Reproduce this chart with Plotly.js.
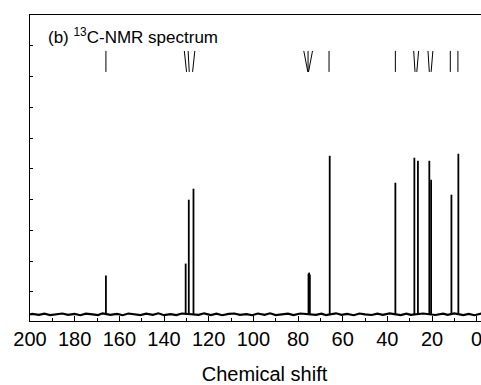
<!DOCTYPE html>
<html>
<head>
<meta charset="utf-8">
<script src="https://cdn.plot.ly/plotly-3.0.1.min.js"></script>
<style>
html,body{margin:0;padding:0;overflow:hidden;background:#fff;width:481px;height:385px;}
#chart{width:510px;height:385px;}
</style>
</head>
<body>
<div id="chart"></div>
<script>
// Peak positions (ppm) and heights (arbitrary intensity)
const peakShift  = [166.0, 130.3, 128.9, 126.8, 75.3, 75.0, 74.7, 65.8, 36.4, 27.9, 26.3, 21.2, 20.4, 11.3, 8.2];
const peakHeight = [39, 51, 115, 126, 41, 42, 40, 159, 132, 157, 154, 154, 135, 120, 161];

// Baseline noise (ppm, intensity)
const noiseShift = [200, 199, 196, 193.5, 191, 188, 185.5, 183, 180, 177.5, 175, 172, 169.5, 167.5, 164, 161, 158.5, 156, 153, 150.5, 148, 145, 142.5, 140, 137, 134.5, 132, 124.5, 122, 119, 116.5, 114, 111, 108.5, 106, 103, 100.5, 98, 95, 92.5, 90, 87, 84.5, 82, 79, 72, 69.5, 67.5, 63, 60.5, 58, 55, 52.5, 50, 47, 44.5, 42, 39, 34, 31.5, 29.5, 24, 18.5, 15, 13, 10, 6, 3.5, 1, -2, -4.5, -7, -10];
const noiseValue = [0, 0.6, -0.4, 0.8, -0.5, 0.4, 1.0, -0.4, 0.6, -0.7, 0.8, 0.2, -0.5, 1.2, -0.4, 0.6, -0.7, 1.0, 0, -0.5, 0.8, -0.4, 1.2, -0.7, 0.4, -0.5, 1.0, -0.4, 1.2, -0.5, 0.8, -0.7, 0.6, 1.0, -0.4, 0.4, -0.7, 1.0, -0.4, 1.2, -0.5, 0.4, 0.8, -0.5, 1.0, -0.4, 0.8, -0.5, 1.2, -0.4, 0.6, -0.7, 1.0, 0.2, -0.5, 0.8, -0.4, 1.2, -0.5, 0.8, -0.4, 1.0, -0.5, 0.8, -0.4, 1.2, -0.5, 0.6, -0.7, 1.0, -0.4, 0.8, 0];

// Assignment marks: top end and bottom end (ppm)
const markTop    = [166.0, 130.9, 129.2, 126.2, 77.4, 75.5, 73.5, 66.1, 36.4, 28.2, 26.0, 21.8, 19.6, 11.8, 8.4];
const markBottom = [166.0, 129.9, 128.7, 127.2, 75.6, 75.5, 75.3, 66.1, 36.4, 27.6, 26.8, 21.2, 20.4, 11.8, 8.4];
const markYTop = 264, markYBottom = 243;

const xTicks = [200, 180, 160, 140, 120, 100, 80, 60, 40, 20, 0];
const xTickText = ['200', '180', '160', '140', '120', '100', '80', '60', '40', '20', '0'];

const px = [], py = [];
peakShift.forEach((s, i) => { px.push(s, s, null); py.push(0, peakHeight[i], null); });
const mx = [], my = [];
markTop.forEach((t, i) => { mx.push(t, markBottom[i], null); my.push(markYTop, markYBottom, null); });

const traces = [
  {x: noiseShift, y: noiseValue, mode: 'lines', line: {color: '#000', width: 2.2}, hoverinfo: 'skip'},
  {x: px, y: py, mode: 'lines', line: {color: '#000', width: 1.8}, hoverinfo: 'skip'},
  {x: mx, y: my, mode: 'lines', line: {color: '#000', width: 1}, hoverinfo: 'skip'}
];

const font = 'Liberation Sans, Arial, sans-serif';
const layout = {
  width: 510, height: 385,
  margin: {l: 30, r: 10.5, t: 15, b: 63.5},
  paper_bgcolor: '#fff', plot_bgcolor: '#fff',
  showlegend: false,
  font: {family: font, color: '#000'},
  xaxis: {
    range: [200, -10], showgrid: false, zeroline: false,
    showline: true, linecolor: '#000', linewidth: 1.3, mirror: true,
    ticks: 'inside', ticklen: 5, tickwidth: 1, tickcolor: '#000',
    tickmode: 'array', tickvals: xTicks, ticktext: xTickText,
    minor: {dtick: 10, ticks: 'inside', ticklen: 3, tickcolor: '#000'},
    tickfont: {family: font, size: 20, color: '#000'},
    title: {text: 'Chemical shift', font: {family: font, size: 20, color: '#000'}, standoff: 29}
  },
  yaxis: {
    range: [-6.5, 300], showgrid: false, zeroline: false,
    showline: true, linecolor: '#000', linewidth: 1.3, mirror: true,
    ticks: 'inside', ticklen: 3, tickcolor: '#000',
    tickmode: 'linear', tick0: 22.7, dtick: 30.8, showticklabels: false
  },
  annotations: [{
    xref: 'paper', yref: 'paper', x: 0.034, y: 0.93, xanchor: 'left', yanchor: 'middle',
    text: '(b) <sup>13</sup>C-NMR spectrum', showarrow: false,
    font: {family: font, size: 17, color: '#000'}
  }]
};
Plotly.newPlot('chart', traces, layout, {staticPlot: true, displayModeBar: false});
</script>
</body>
</html>
